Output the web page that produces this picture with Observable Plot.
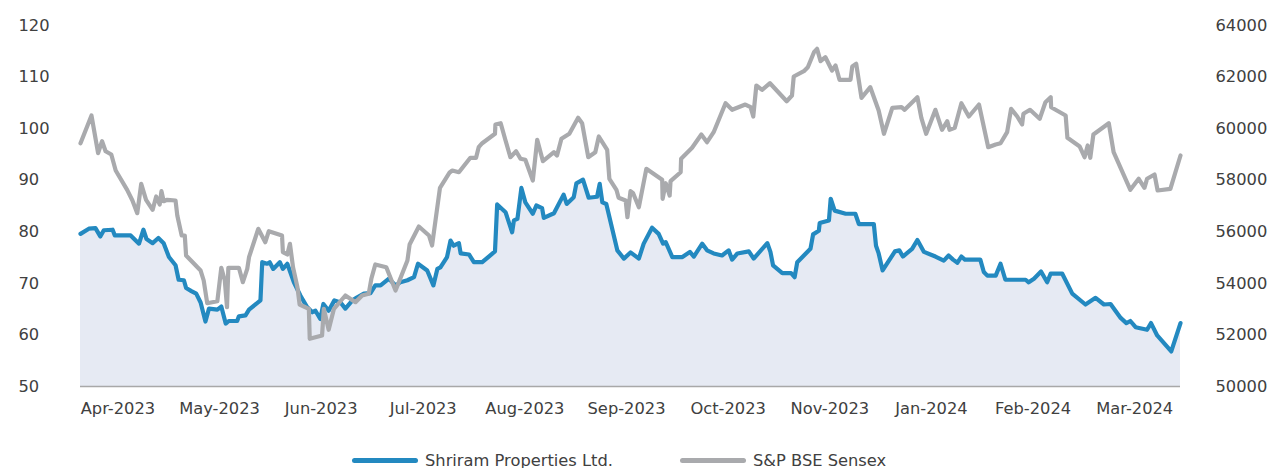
<!DOCTYPE html>
<html>
<head>
<meta charset="utf-8">
<script src="https://cdn.jsdelivr.net/npm/d3@7"></script>
<script src="https://cdn.jsdelivr.net/npm/@observablehq/plot@0.6"></script>
<style>
  body { margin: 0; background: #fff; font-family: "DejaVu Sans", sans-serif; }
  #chart svg { display: block; }
  .legend { position: relative; height: 28px; width: 1278px; font-family: "DejaVu Sans", sans-serif; font-size: 16.3px; color: #404040; }
  .item { position: absolute; top: 11px; display: flex; align-items: center; gap: 7px; white-space: nowrap; }
  .sw { width: 66px; height: 5px; border-radius: 3px; }
</style>
</head>
<body>
<div id="chart"></div>
<div class="legend" id="legend"></div>
<script>
// Trading-day index (0 = start of Apr-2023, 250 = end of Mar-2024)
const shriramDay = [0,1.9,3.4,4.5,5.3,7.3,7.8,11.4,13.3,14.3,15,16.4,17.7,18.9,20.1,21.6,22.3,23.5,24,25.2,26.3,27.3,28.4,29.2,31.1,32,33,33.7,35.6,36,37.5,38.3,40.9,41.3,42.4,43,43.8,45.3,46,47,48.5,50,51.5,52.7,53.4,54.5,55.2,56.4,57.7,59.1,60.2,61.8,62.9,64.4,65.9,67,68.2,70.1,71.6,72.7,74.3,75.8,76.7,78.8,80.2,81.1,81.8,83.3,84.1,84.8,86,86.4,88.3,89.4,91.3,92.8,94.2,94.7,96.6,98.1,98.5,99.3,100.2,101.1,102.8,103.6,104.9,105.3,107.6,109.8,110.5,112.1,112.7,114.2,115.5,117.4,118,118.6,119.5,122,123.5,125,126.9,128,129.9,131.4,132.4,133,134.5,136.8,138.5,139.4,141.3,142.4,143.9,145.8,147.3,148.1,149.3,151.9,153,156.1,156.8,157.4,159.5,161.5,162.3,162.9,165.9,166.5,167.8,168,170.1,170.5,171.4,173.9,176.1,176.9,180.3,180.8,181.4,182.3,185.1,186.1,186.9,189,190.2,191.7,194.3,196.2,197.3,198.3,199.3,200.2,201,204.5,205.3,206.1,208,209.1,210.2,214.8,215.5,216.7,218.3,219.7,220.5,223.1,225.4,228.4,230.7,232.6,234.1,236.4,237.7,238.6,239.8,242.4,243.3,244.7,247.9,250];
const shriramVal = [79.6,80.6,80.7,79.1,80.3,80.4,79.3,79.3,77.7,80.4,78.6,77.8,78.8,77.8,75.1,73.5,70.7,70.6,69.1,68.5,68.0,66.3,62.6,65.1,64.9,65.5,62.2,62.7,62.7,63.6,63.8,64.9,66.7,74.1,73.8,74.1,72.8,74.1,72.8,73.8,70.2,67.6,65.4,64.4,64.7,63.1,66.0,64.7,66.7,66.3,65.1,66.7,67.3,68.0,68.1,69.6,69.6,70.9,69.6,70.2,70.6,71.2,73.8,72.5,69.6,72.8,73.1,75.1,78.3,77.3,77.8,75.8,75.6,74.1,74.1,75.2,76.2,85.3,83.8,79.9,82.2,82.5,88.5,85.7,83.5,85.1,84.6,82.7,83.6,87.2,85.4,86.7,89.4,90.1,86.6,86.8,89.3,85.7,85.4,76.4,74.8,76.0,74.8,77.7,80.8,79.6,77.7,78.0,75.1,75.1,76.1,75.2,77.7,76.4,75.8,75.4,76.4,74.6,75.8,76.2,74.8,77.8,76.1,73.5,72.0,72.0,71.2,74.1,76.7,79.5,80.2,81.7,82.2,86.4,84.1,83.5,83.5,81.5,81.5,77.3,75.8,72.5,76.2,76.4,75.2,76.7,78.4,76.1,75.2,74.4,75.4,74.6,74.0,75.2,74.6,74.6,72.2,71.5,71.5,73.8,70.7,70.7,70.2,70.9,72.3,70.2,71.9,71.9,68.0,65.9,67.2,65.9,66.0,63.3,62.3,62.7,61.5,61.0,62.3,59.9,56.8,62.3];

const sensexDay = [0,2.5,4,4.9,5.7,7,8,10.6,11.8,12.9,13.8,14.9,16.4,17.2,18,18.4,18.9,19.7,21.6,22,23,23.7,24,27.3,28,28.8,31.1,32,32.8,33.3,33.6,36,36.9,37.9,38.3,40.4,42,42.8,45.8,46,47,47.6,48.3,49.3,49.8,51.9,52.1,54.9,55.3,56.4,57.6,60.2,62.5,64,65.5,66.1,67,69.5,71.6,74.3,74.8,76.9,79.2,79.9,81.7,83.9,84.5,86,88.6,89.9,90.5,91.3,94.2,94.3,95.5,96.6,97.7,99,100,101.1,102.8,103.8,105.1,107.6,108.3,109.3,111.1,113.1,114,115.4,117,117.8,119.7,120.2,121.8,122.3,123.9,124.3,125,125.6,126.9,128.6,132.2,132.3,133,133.9,134.1,136.4,136.5,139,141.1,142.4,143.9,146.6,148.1,151.1,152.3,152.9,153.6,154.9,156.7,160.5,161.7,162.1,164.4,165.3,166.7,167.4,168.2,169.3,170.8,171.6,172.5,175,175.4,176.3,177.5,179.5,181.4,182.6,184.5,186.6,187.3,190.2,191.1,192.2,194.3,195.8,197,197.5,198.7,200.2,201.9,204.2,206.3,208,209.1,210.6,211.5,212.9,214,214.3,215.8,218,219.3,220.5,220.6,223.9,224.3,227.1,228.2,228.9,229.5,230.2,233.7,234.8,238.6,240.5,241.8,242.4,244.1,244.8,247.7,250];
const sensexVal = [59435,60509,59047,59513,59125,58997,58376,57628,57213,56721,57861,57240,56852,57368,57058,57574,57186,57240,57213,56631,55856,55856,55080,54498,54111,53230,53308,54603,54111,53075,54603,54603,54045,54564,55014,56116,55596,56023,55856,55208,55119,55534,54627,53851,53180,53013,51850,51978,53013,52199,53013,53529,53269,53529,53595,54177,54731,54627,53723,54886,55507,56205,55856,55468,57706,58300,58376,58311,58869,58869,59280,59435,59800,60160,60211,59540,58892,59125,58830,58791,57989,59567,58737,59086,58958,59606,59800,60420,60211,58892,59086,59695,59179,58055,57628,57318,57213,56566,57574,57496,56953,58442,58016,57279,57884,57407,57962,58311,58830,59257,59773,59474,59862,60987,60730,60936,60831,60471,61673,61506,61762,61064,61285,62022,62227,62383,62964,63096,62615,62770,62254,62448,61894,61894,62410,62514,61196,61607,60703,59800,60808,60831,60730,61219,60420,59800,60730,59955,60288,59955,60032,60987,60471,60936,59280,59385,59435,59862,60769,60471,60160,60575,60730,60381,61025,61219,60831,60509,59645,59307,58892,59346,58869,59773,60211,59086,57628,58055,57706,58055,58221,57601,57667,58958];

const monthTickDay = [8.5,31.6,54.7,77.9,101,124.1,147.2,170.3,193.4,216.5,239.6];
const monthTickLabel = ["Apr-2023","May-2023","Jun-2023","Jul-2023","Aug-2023","Sep-2023","Oct-2023","Nov-2023","Jan-2024","Feb-2024","Mar-2024"];
const leftTicks = [50,60,70,80,90,100,110,120];
const rightTicks = [50000,52000,54000,56000,58000,60000,62000,64000];
const seriesNames = ["Shriram Properties Ltd.","S&P BSE Sensex"];
const seriesColors = ["#2389c0","#a9aaad"];

// Sensex mapped onto left scale: 50000..64000 -> 50..120
const toLeft = s => 50 + (s - 50000) / 200;
const toRight = v => 50000 + (v - 50) * 200;

const shriram = shriramDay.map((d, i) => ({day: d, v: shriramVal[i]}));
const sensex = sensexDay.map((d, i) => ({day: d, v: toLeft(sensexVal[i])}));
const labelOf = new Map(monthTickDay.map((d, i) => [d, monthTickLabel[i]]));

const chart = Plot.plot({
  width: 1278,
  height: 440,
  marginLeft: 80,
  marginRight: 98,
  marginTop: 25,
  marginBottom: 54,
  style: {fontFamily: "DejaVu Sans, sans-serif", fontSize: "16.3px", color: "#404040", background: "#fff"},
  x: {domain: [0, 250]},
  y: {domain: [50, 120]},
  marks: [
    Plot.areaY(shriram, {x: "day", y1: 50, y2: "v", fill: "#e6eaf3"}),
    Plot.ruleY([50], {stroke: "#a8a8a8", strokeWidth: 1.5}),
    Plot.lineY(shriram, {x: "day", y: "v", stroke: seriesColors[0], strokeWidth: 4.2, strokeLinejoin: "round", strokeLinecap: "round"}),
    Plot.lineY(sensex, {x: "day", y: "v", stroke: seriesColors[1], strokeWidth: 4.2, strokeLinejoin: "round", strokeLinecap: "round"}),
    Plot.axisX({ticks: monthTickDay, tickFormat: d => labelOf.get(d), tickSize: 0, tickPadding: 16, label: null, fill: "#404040"}),
    Plot.axisY({anchor: "left", ticks: leftTicks, tickSize: 0, tickPadding: 0, textAnchor: "start", dx: -62, label: null, fill: "#404040"}),
    Plot.axisY({anchor: "right", ticks: rightTicks.map(toLeft), tickFormat: d => String(Math.round(toRight(d))), tickSize: 0, tickPadding: 35, textAnchor: "start", label: null, fill: "#404040"})
  ]
});
document.getElementById("chart").appendChild(chart);

const legend = document.getElementById("legend");
const lefts = [352, 680];
seriesNames.forEach((name, i) => {
  const item = document.createElement("div");
  item.className = "item";
  item.style.left = lefts[i] + "px";
  const sw = document.createElement("span");
  sw.className = "sw";
  sw.style.background = seriesColors[i];
  const t = document.createElement("span");
  t.textContent = name;
  item.appendChild(sw);
  item.appendChild(t);
  legend.appendChild(item);
});
</script>
</body>
</html>
